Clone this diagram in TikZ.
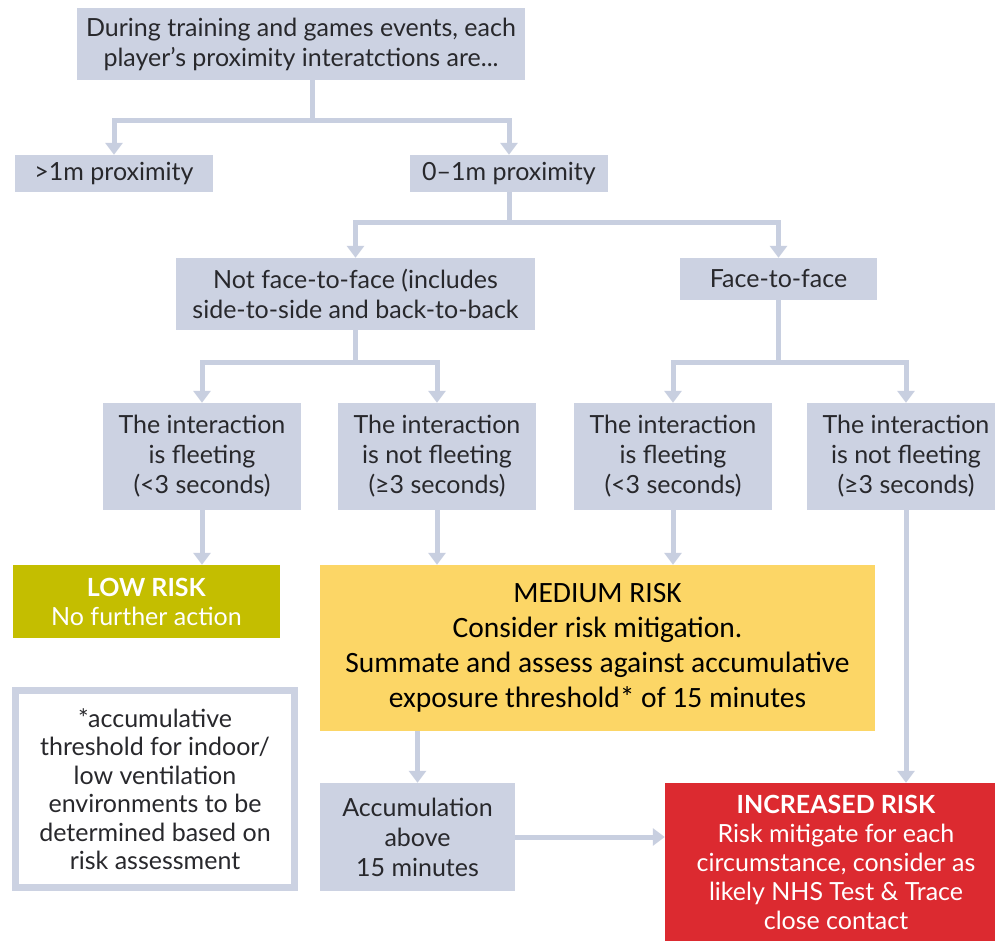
\documentclass[tikz,border=0pt]{standalone}
\usepackage{fontspec}
\setmainfont{Lato}
\newfontfamily\calibri{Carlito}
\usetikzlibrary{arrows.meta,positioning,calc}
\definecolor{boxgray}{RGB}{204,210,226}
\definecolor{linkgray}{RGB}{200,207,224}
\definecolor{textgray}{RGB}{40,40,44}
\definecolor{lowrisk}{RGB}{196,190,0}
\definecolor{medrisk}{RGB}{252,214,102}
\definecolor{incrisk}{RGB}{220,42,48}
\tikzset{
  >={Triangle[width=17pt,length=12pt]},
  blk/.style={fill=boxgray, align=center, text=textgray, inner sep=0pt, font=\fontsize{25}{30}\selectfont},
  risk/.style={align=center, text=white, inner sep=0pt, font=\fontsize{25}{29}\selectfont},
  link/.style={draw=linkgray, line width=5pt},
  flow/.style={link, ->},
}
\begin{document}
\begin{tikzpicture}[x=1pt, y=-1pt,
  wide/.style={blk, minimum width=198pt, minimum height=37pt},
  step4/.style={blk, minimum width=198pt, minimum height=107pt}]
  \clip (0,0) rectangle (995,940);
  \fill[white] (0,0) rectangle (995,940);
  \node[blk, minimum width=448pt, minimum height=72pt] (top) at (301,44) {During training and games events, each\\player’s proximity interatctions are...};
  \node[wide] (far) at (114,173.5) {>1m proximity};
  \node[wide] (near) at (509,173.5) {0–1m proximity};
  \node[blk, minimum width=359pt, minimum height=72pt] (nff) at (355.5,294) {Not face-to-face (includes\\side-to-side and back-to-back};
  \node[blk, minimum width=197pt, minimum height=42pt] (ff) at (778.5,279) {Face-to-face};
  \foreach \x/\n/\l in {202/nfa/is fleeting\\(<3 seconds), 437/nfb/is not fleeting\\(≥3 seconds), 673/ffa/is fleeting\\(<3 seconds), 906/ffb/is not fleeting\\(≥3 seconds)} {
    \node[step4] (\n) at (\x,456.5) {The interaction\\\l};
  }
  \node[risk, fill=lowrisk, minimum width=267pt, minimum height=73pt] (low) at (146.5,601.5) {\textbf{LOW RISK}\\No further action};
  \node[fill=medrisk, align=center, inner sep=0pt, minimum width=555pt, minimum height=166pt, font=\calibri\fontsize{29.5}{35}\selectfont] (med) at (597.5,648) {MEDIUM RISK\\Consider risk mitigation.\\Summate and assess against accumulative\\exposure threshold* of 15 minutes};
  \node[draw=boxgray, line width=7pt, fill=white, align=center, text=textgray, inner sep=0pt, minimum width=279pt, minimum height=197pt, font=\fontsize{25}{28.5}\selectfont] (note) at (155,789) {*accumulative\\threshold for indoor/\\low ventilation\\environments to be\\determined based on\\risk assessment};
  \node[blk, minimum width=195pt, minimum height=108pt] (acc) at (417.5,837) {Accumulation\\above\\15 minutes};
  \node[risk, fill=incrisk, minimum width=342pt, minimum height=159pt] (inc) at (836,862.5) {\textbf{INCREASED RISK}\\Risk mitigate for each\\circumstance, consider as\\likely NHS Test \& Trace\\close contact};
  \coordinate (j1) at (312,120);
  \coordinate (j2) at (near.south |- 0,222);
  \coordinate (j3) at (nff.south |- 0,362);
  \coordinate (j4) at (ff.south |- 0,362);
  \draw[link] (top.south -| j1) -- (j1);
  \draw[flow] (j1) -| (far.north);
  \draw[flow] (j1) -| (near.north);
  \draw[link] (near.south) -- (j2);
  \draw[flow] (j2) -| (nff.north);
  \draw[flow] (j2) -| (ff.north);
  \draw[link] (nff.south) -- (j3);
  \draw[flow] (j3) -| (nfa.north);
  \draw[flow] (j3) -| (nfb.north);
  \draw[link] (ff.south) -- (j4);
  \draw[flow] (j4) -| (ffa.north);
  \draw[flow] (j4) -| (ffb.north);
  \draw[flow] (nfa.south) -- (nfa.south |- low.north);
  \draw[flow] (nfb.south) -- (nfb.south |- med.north);
  \draw[flow] (ffa.south) -- (ffa.south |- med.north);
  \draw[flow] (ffb.south) -- (ffb.south |- inc.north);
  \draw[flow] (med.south -| acc.north) -- (acc.north);
  \draw[flow] (acc.east) -- (acc.east -| inc.west);
\end{tikzpicture}
\end{document}
